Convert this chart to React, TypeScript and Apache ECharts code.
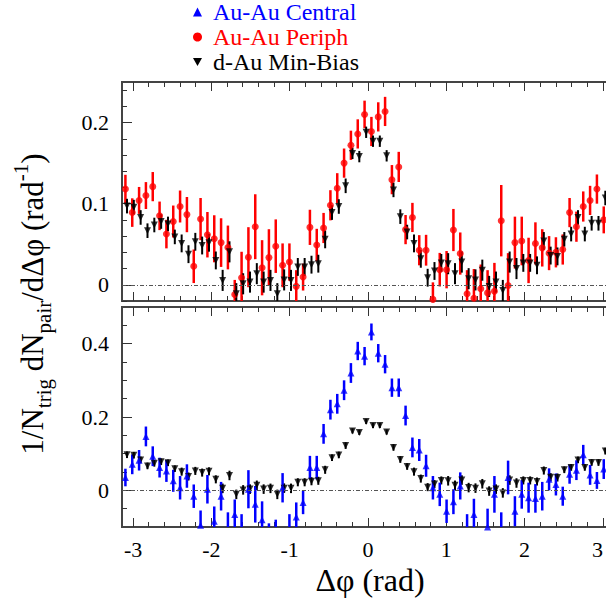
import React, { useEffect, useRef } from 'react';
import * as echarts from 'echarts';

// 72 azimuthal bins over [-pi, pi]
const N_BINS = 72;
const PHI_BINS = Array.from({ length: N_BINS }, (_, i) => -Math.PI + (i + 0.5) * (2 * Math.PI / N_BINS));

const X_TICKS = [-3, -2, -1, 0, 1, 2, 3];
const X_MINOR = [-2.8, -2.6, -2.4, -2.2, -1.8, -1.6, -1.4, -1.2, -0.8, -0.6, -0.4, -0.2,
  0.2, 0.4, 0.6, 0.8, 1.2, 1.4, 1.6, 1.8, 2.2, 2.4, 2.6, 2.8];
const TOP_Y_TICKS = [0, 0.1, 0.2];
const TOP_Y_MINOR = [-0.02, 0.02, 0.04, 0.06, 0.08, 0.12, 0.14, 0.16, 0.18, 0.22, 0.24];
const BOT_Y_TICKS = [0, 0.2, 0.4];
const BOT_Y_MINOR = [-0.05, 0.05, 0.1, 0.15, 0.25, 0.3, 0.35, 0.45];

// Au-Au peripheral (red circles)
const PERIPH = [
  0.118, 0.089, 0.104, 0.110, 0.121, 0.085, 0.0625, 0.078, 0.0965, 0.0865, 0.0228, 0.081,
  0.0617, 0.0567, 0.052, 0.046, -0.012, 0.0087, 0.034, 0.0716, 0.021, 0.0335, 0.0476, 0.024,
  0.028, -0.002, 0.0095, 0.0708, 0.049, 0.070, 0.098, 0.119, 0.150, 0.172, 0.186, 0.210,
  0.189, 0.207, 0.2137, 0.1296, 0.1453, 0.068, 0.083, 0.0426, 0.0426, -0.018, 0.0186, 0.0186,
  0.0675, 0.0385, -0.011, -0.0166, -0.005, -0.010, -0.008, 0.079, -0.001, 0.052, 0.054, 0.030,
  0.051, 0.0455, 0.039, 0.040, 0.0435, 0.089, 0.0716, 0.0965, 0.104, 0.118, 0.080, 0.110,
];
const PERIPH_ERR = [
  0.0176, 0.0176, 0.0166, 0.0166, 0.018, 0.0176, 0.0176, 0.0197, 0.0197, 0.0217, 0.0207, 0.026,
  0.028, 0.029, 0.030, 0.027, 0.018, 0.032, 0.037, 0.040, 0.034, 0.035, 0.033, 0.027,
  0.023, 0.020, 0.0166, 0.0217, 0.020, 0.0186, 0.0186, 0.0186, 0.018, 0.018, 0.018, 0.017,
  0.018, 0.018, 0.018, 0.018, 0.0186, 0.018, 0.018, 0.0186, 0.019, 0.021, 0.0207, 0.023,
  0.026, 0.026, 0.029, 0.036, 0.03, 0.028, 0.035, 0.044, 0.04, 0.032, 0.030, 0.028,
  0.026, 0.023, 0.021, 0.0186, 0.0186, 0.018, 0.0186, 0.0186, 0.018, 0.018, 0.0166, 0.0176,
];

// d-Au minimum bias (black down-triangles)
const DAU = [
  0.097, 0.0957, 0.083, 0.0667, 0.0737, 0.078, 0.075, 0.059, 0.051, 0.0377, 0.053, 0.0484,
  0.0518, 0.030, 0.0054, 0.0406, -0.011, 0.0012, 0.0033, 0.0137, 0.0033, 0.0054, -0.011, 0.006,
  0.0054, 0.022, 0.022, 0.0248, 0.026, 0.056, 0.089, 0.0965, 0.122, 0.162, 0.158, 0.188,
  0.177, 0.177, 0.159, 0.117, 0.084, 0.065, 0.051, 0.032, 0.0087, 0.017, 0.027, 0.026,
  0.0137, 0.028, 0.0075, 0.006, 0.018, -0.002, 0.0033, -0.007, 0.028, 0.020, 0.027, 0.027,
  0.024, 0.054, 0.036, 0.035, 0.056, 0.0625, 0.083, 0.0625, 0.0758, 0.0758, 0.107, 0.100,
];
const DAU_ERR = [
  0.009, 0.009, 0.009, 0.009, 0.009, 0.009, 0.009, 0.009, 0.011, 0.011, 0.011, 0.011,
  0.011, 0.011, 0.013, 0.013, 0.013, 0.013, 0.013, 0.013, 0.013, 0.013, 0.013, 0.013,
  0.013, 0.011, 0.011, 0.011, 0.011, 0.011, 0.009, 0.009, 0.009, 0.007, 0.007, 0.007,
  0.007, 0.007, 0.007, 0.009, 0.009, 0.009, 0.011, 0.011, 0.011, 0.011, 0.011, 0.013,
  0.013, 0.013, 0.013, 0.013, 0.013, 0.013, 0.013, 0.013, 0.013, 0.013, 0.011, 0.011,
  0.011, 0.011, 0.011, 0.011, 0.009, 0.009, 0.009, 0.009, 0.009, 0.009, 0.009, 0.009,
];

// Au-Au central (blue up-triangles)
const CENTRAL = [
  0.035, 0.071, 0.082, 0.147, 0.093, 0.062, 0.053, 0.026, 0.007, 0.039, -0.016, -0.095,
  0.003, -0.084, -0.016, -0.105, -0.066, -0.11, 0.003, -0.038, -0.080, -0.14, -0.13, 0.007,
  -0.11, -0.073, -0.033, 0.062, 0.062, 0.154, 0.220, 0.236, 0.273, 0.320, 0.380, 0.366,
  0.432, 0.374, 0.344, 0.280, 0.280, 0.204, 0.117, 0.110, 0.067, 0.007, -0.011, -0.057,
  -0.031, 0.012, -0.11, -0.066, -0.15, -0.10, -0.011, -0.11, 0.035, -0.057, -0.011, -0.020,
  -0.022, -0.016, 0.030, 0.016, -0.016, 0.044, 0.055, 0.097, 0.042, 0.027, 0.058, 0.060,
];
const CENTRAL_ERR = [
  0.024, 0.027, 0.028, 0.027, 0.027, 0.027, 0.030, 0.030, 0.032, 0.032, 0.032,
  0.04, 0.039, 0.04, 0.039, 0.045, 0.041, 0.045, 0.052, 0.05, 0.05, 0.05, 0.05,
  0.04, 0.045, 0.04, 0.032, 0.032, 0.032, 0.027, 0.027, 0.027, 0.027, 0.027, 0.025,
  0.025, 0.023, 0.025, 0.025, 0.025, 0.025, 0.027, 0.027, 0.03, 0.03, 0.032, 0.032,
  0.032, 0.034, 0.037, 0.045, 0.043, 0.05, 0.05, 0.05, 0.05, 0.046, 0.041, 0.039,
  0.041, 0.039, 0.039, 0.030, 0.030, 0.026, 0.026, 0.027, 0.027, 0.027, 0.023, 0.027, 0.027,
];

const NAME_CENTRAL = 'Au-Au Central';
const NAME_PERIPH = 'Au-Au Periph';
const NAME_DAU = 'd-Au Min-Bias';

const BLUE = '#0000ff';
const RED = '#ff0000';
const BLACK = '#000000';
const SERIF = "'Liberation Serif', 'Times New Roman', Times, serif";
const DAU_SHIFT = 0.02;

export default function App() {
  const ref = useRef<HTMLDivElement>(null);

  useEffect(() => {
    if (!ref.current) return;
    const chart = echarts.init(ref.current, undefined, { renderer: 'svg' });

    const pts = (vals: number[], errs: number[], shift = 0) =>
      vals.map((v, i) => [PHI_BINS[i] + shift, v, errs[i]]);

    const errSeries = (name: string, data: number[][], color: string, width: number, xi: number, yi: number) => ({
      type: 'custom',
      name,
      xAxisIndex: xi,
      yAxisIndex: yi,
      clip: true,
      encode: { x: 0, y: 1 },
      data,
      renderItem: (_p: any, api: any) => {
        const x = api.value(0);
        const y = api.value(1);
        const e = api.value(2);
        const a = api.coord([x, y + e]);
        const b = api.coord([x, y - e]);
        return {
          type: 'line',
          shape: { x1: a[0], y1: a[1], x2: b[0], y2: b[1] },
          style: { stroke: color, lineWidth: width },
        };
      },
    });

    const zeroLine = {
      silent: true,
      symbol: ['none', 'none'],
      label: { show: false },
      lineStyle: { color: '#555', type: [4, 2, 1, 2], width: 1 },
      data: [{ yAxis: 0 }],
    };

    const markSeries = (name: string, data: number[][], color: string, symbol: string, rotate: number, size: number, xi: number, yi: number, withZero: boolean) => ({
      type: 'scatter',
      name,
      xAxisIndex: xi,
      yAxisIndex: yi,
      data: data.map((d) => [d[0], d[1]]),
      symbol,
      symbolRotate: rotate,
      symbolSize: size,
      itemStyle: { color },
      clip: true,
      ...(withZero ? { markLine: zeroLine } : {}),
    });

    const tickColor = '#333';
    const xAxisDef = (gridIndex: number, position: string, ticks: number[], len: number, labels: boolean) => ({
      type: 'value',
      gridIndex,
      position,
      min: -Math.PI,
      max: Math.PI,
      axisLine: { show: false, onZero: false },
      splitLine: { show: false },
      axisTick: { show: true, inside: true, length: len, customValues: ticks, lineStyle: { color: tickColor, width: 1 } },
      axisLabel: labels
        ? { show: true, customValues: X_TICKS, fontFamily: SERIF, fontSize: 22, color: '#000', margin: 11, alignMaxLabel: 'right' }
        : { show: false },
    });
    const yAxisDef = (gridIndex: number, min: number, max: number, ticks: number[], len: number, labels: number[] | null) => ({
      type: 'value',
      gridIndex,
      position: 'left',
      min,
      max,
      axisLine: { show: false, onZero: false },
      splitLine: { show: false },
      axisTick: { show: true, inside: true, length: len, customValues: ticks, lineStyle: { color: tickColor, width: 1 } },
      axisLabel: labels
        ? { show: true, customValues: labels, fontFamily: SERIF, fontSize: 22, color: '#000', margin: 13,
            formatter: (v: number) => (v === 0 ? '0' : String(v)) }
        : { show: false },
    });

    const periph = pts(PERIPH, PERIPH_ERR);
    const dau = pts(DAU, DAU_ERR, DAU_SHIFT);
    const central = pts(CENTRAL, CENTRAL_ERR);

    chart.setOption({
      animation: false,
      backgroundColor: '#fff',
      textStyle: { fontFamily: SERIF },
      legend: {
        orient: 'vertical',
        left: 193,
        top: 0,
        padding: 0,
        itemGap: 1,
        itemWidth: 9,
        itemHeight: 9,
        selectedMode: false,
        textStyle: { fontFamily: SERIF, fontSize: 24, padding: [0, 0, 0, 6] },
        data: [
          { name: NAME_CENTRAL, icon: 'triangle', itemStyle: { color: BLUE }, textStyle: { color: BLUE } },
          { name: NAME_PERIPH, icon: 'circle', itemStyle: { color: RED }, textStyle: { color: RED } },
          { name: NAME_DAU, icon: 'path://M0,0L10,0L5,9Z', itemStyle: { color: BLACK }, textStyle: { color: BLACK } },
        ],
      },
      grid: [
        { left: 122, top: 82, width: 492, height: 219, show: true, borderColor: '#444', borderWidth: 2, backgroundColor: 'transparent', outerBoundsMode: 'none', containLabel: false },
        { left: 122, top: 307, width: 492, height: 220, show: true, borderColor: '#444', borderWidth: 2, backgroundColor: 'transparent', outerBoundsMode: 'none', containLabel: false },
      ],
      xAxis: [
        xAxisDef(0, 'bottom', X_TICKS, 9, false),
        xAxisDef(0, 'bottom', X_MINOR, 5, false),
        xAxisDef(0, 'top', X_TICKS, 9, false),
        xAxisDef(0, 'top', X_MINOR, 5, false),
        xAxisDef(1, 'bottom', X_TICKS, 9, true),
        xAxisDef(1, 'bottom', X_MINOR, 5, false),
        xAxisDef(1, 'top', X_TICKS, 9, false),
        xAxisDef(1, 'top', X_MINOR, 5, false),
      ],
      yAxis: [
        yAxisDef(0, -0.02, 0.25, TOP_Y_TICKS, 10, TOP_Y_TICKS),
        yAxisDef(0, -0.02, 0.25, TOP_Y_MINOR, 5, null),
        yAxisDef(1, -0.1, 0.5, BOT_Y_TICKS, 10, BOT_Y_TICKS),
        yAxisDef(1, -0.1, 0.5, BOT_Y_MINOR, 5, null),
      ],
      graphic: [
        {
          type: 'text',
          x: 32,
          y: 304,
          rotation: Math.PI / 2,
          style: {
            text: '{m|1/N}{s|trig}{m| dN}{s|pair}{m|/dΔφ (rad}{u|-1}{m|)}',
            align: 'center',
            verticalAlign: 'middle',
            fill: '#000',
            fontFamily: SERIF,
            rich: {
              m: { fontFamily: SERIF, fontSize: 31, lineHeight: 44, verticalAlign: 'middle', fill: '#000' },
              s: { fontFamily: SERIF, fontSize: 21, lineHeight: 20, verticalAlign: 'bottom', fill: '#000' },
              u: { fontFamily: SERIF, fontSize: 21, lineHeight: 16, verticalAlign: 'top', fill: '#000' },
            },
          },
        },
        {
          type: 'text',
          x: 370,
          y: 580,
          style: {
            text: 'Δφ (rad)',
            align: 'center',
            verticalAlign: 'middle',
            fontFamily: SERIF,
            fontSize: 32,
            fill: '#000',
          },
        },
      ],
      series: [
        errSeries(NAME_PERIPH, periph, RED, 2.5, 0, 0),
        markSeries(NAME_PERIPH, periph, RED, 'circle', 0, 7, 0, 0, false),
        errSeries(NAME_DAU, dau, BLACK, 2, 0, 0),
        markSeries(NAME_DAU, dau, BLACK, 'triangle', 180, 7, 0, 0, true),
        errSeries(NAME_DAU, dau, BLACK, 2, 4, 2),
        markSeries(NAME_DAU, dau, BLACK, 'triangle', 180, 7, 4, 2, true),
        errSeries(NAME_CENTRAL, central, BLUE, 2.5, 4, 2),
        markSeries(NAME_CENTRAL, central, BLUE, 'triangle', 0, 7, 4, 2, false),
      ],
    });

    return () => chart.dispose();
  }, []);

  return <div ref={ref} style={{ position: 'absolute', left: 0, top: 0, width: 606, height: 608 }} />;
}
